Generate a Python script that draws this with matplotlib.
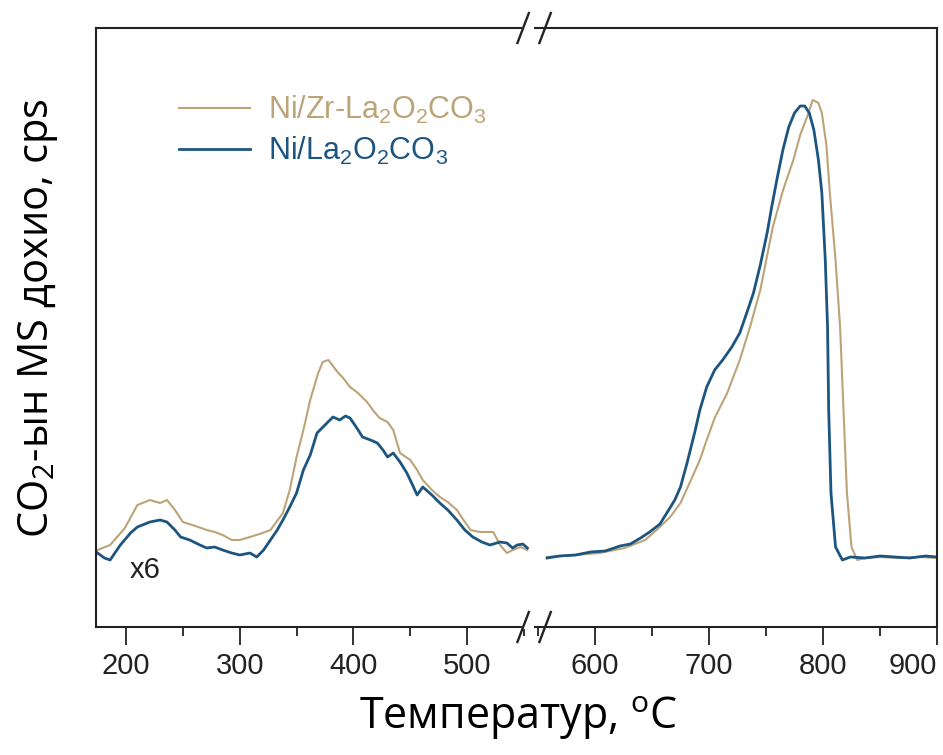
import numpy as np
import matplotlib
matplotlib.use('Agg')
import matplotlib.pyplot as plt
from matplotlib.ticker import MultipleLocator

# --- data (signal in arbitrary units, x6 below 560 C) ---
# low-temperature part
t_low_zr = [175, 186, 199, 210, 221, 230, 236, 243, 250, 261, 271, 278, 285, 293,
            300, 309, 320, 327, 338, 344, 350, 356, 362, 369, 373, 378, 386, 391,
            397, 404, 412, 417, 423, 430, 435, 441, 450, 456, 461, 469, 476, 483,
            491, 498, 503, 511, 523, 529, 535, 540, 547, 553]
y_low_zr = [77, 82, 99, 122, 127, 124, 127, 117, 105, 101, 97, 95, 92, 87,
            87, 90, 94, 97, 114, 137, 170, 197, 227, 254, 265, 267, 255, 249,
            240, 234, 225, 217, 209, 205, 197, 174, 167, 157, 147, 137, 130, 125,
            117, 105, 97, 95, 95, 82, 74, 77, 80, 77]

t_low_ni = [175, 181, 186, 195, 204, 210, 221, 230, 236, 243, 248, 256, 265, 271,
            278, 285, 293, 300, 309, 315, 321, 327, 333, 338, 344, 350, 356, 362,
            368, 375, 382, 388, 393, 397, 403, 408, 415, 421, 426, 430, 435, 441,
            447, 452, 456, 461, 469, 476, 483, 491, 498, 505, 513, 520, 529, 535,
            540, 544, 549, 553]
y_low_ni = [74, 69, 67, 82, 94, 100, 105, 107, 105, 97, 90, 87, 82, 79,
            80, 77, 74, 72, 74, 70, 77, 87, 97, 107, 120, 134, 157, 172,
            194, 202, 210, 207, 211, 209, 199, 190, 187, 184, 177, 170, 174, 165,
            154, 142, 132, 140, 132, 124, 117, 107, 97, 90, 85, 82, 85, 84,
            79, 82, 83, 79]

# high-temperature part
t_high_zr = [558, 583, 604, 626, 644, 654, 666, 675, 683, 692, 698, 705, 716, 727,
             736, 745, 756, 765, 774, 780, 786, 791, 796, 799, 803, 806, 811, 815,
             818, 821, 825, 830, 837, 850, 868, 885, 900]
y_high_zr = [70, 72, 74, 79, 87, 97, 110, 124, 144, 167, 187, 209, 234, 267,
             300, 337, 400, 437, 467, 492, 510, 527, 524, 514, 482, 434, 367, 300,
             217, 134, 80, 67, 69, 70, 69, 70, 69]

t_high_ni = [558, 569, 583, 596, 609, 622, 631, 640, 648, 657, 663, 670, 675, 681,
             688, 692, 698, 705, 712, 720, 727, 734, 739, 745, 751, 755, 760, 765,
             770, 775, 780, 784, 788, 792, 796, 799, 802, 804, 805, 807, 811, 817,
             824, 837, 850, 863, 876, 890, 900]
y_high_ni = [69, 71, 72, 75, 76, 81, 83, 89, 95, 103, 114, 127, 140, 165,
             197, 217, 240, 257, 267, 280, 294, 317, 334, 362, 394, 420, 450, 478,
             500, 514, 521, 521, 514, 497, 467, 434, 367, 300, 217, 134, 80, 67,
             70, 69, 71, 70, 69, 71, 70]

labels = ['Ni/Zr-La$_2$O$_2$CO$_3$', 'Ni/La$_2$O$_2$CO$_3$']
colors = ['#bca478', '#1d5581']
x_ticks = [200, 300, 400, 500, 600, 700, 800, 900]

plt.rcParams['mathtext.fontset'] = 'custom'
plt.rcParams['mathtext.rm'] = 'Liberation Sans'
plt.rcParams['mathtext.it'] = 'Liberation Sans'

fig = plt.figure(figsize=(9.43, 7.55), dpi=100)
# two panels sharing one scale, joined at the axis break
ax1 = fig.add_axes([96 / 943, 1 - 627 / 755, 439 / 943, 599 / 755])
ax2 = fig.add_axes([535 / 943, 1 - 627 / 755, 402 / 943, 599 / 755])

ax1.plot(t_low_zr, y_low_zr, color=colors[0], lw=1.5, label=labels[0])
ax1.plot(t_low_ni, y_low_ni, color=colors[1], lw=2.0, label=labels[1])
ax2.plot(t_high_zr, y_high_zr, color=colors[0], lw=1.5)
ax2.plot(t_high_ni, y_high_ni, color=colors[1], lw=2.0)

ax1.set_xlim(173.6, 559.7)
ax2.set_xlim(547.4, 900)
ax1.set_xticks([t for t in x_ticks if t < 550])
ax2.set_xticks([t for t in x_ticks if t > 550])
for ax in (ax1, ax2):
    ax.set_ylim(0, 599)
    ax.set_yticks([])
    ax.xaxis.set_minor_locator(MultipleLocator(50))
    ax.tick_params(axis='x', which='major', direction='out', length=13, width=1.3,
                   color='#222222', pad=5)
    ax.tick_params(axis='x', which='minor', direction='out', length=6.5, width=1.3,
                   color='#222222')
    for s in ax.spines.values():
        s.set_linewidth(1.5)
        s.set_color('#222222')
    for lab in ax.get_xticklabels():
        lab.set_fontfamily('Liberation Sans')
        lab.set_fontsize(21)
        lab.set_color('#222222')
ax2.get_xticklabels()[-1].set_horizontalalignment('right')
ax1.spines['right'].set_visible(False)
ax2.spines['left'].set_visible(False)
ax2.patch.set_alpha(0)

# break marks "//" on top and bottom spines
for yb in (0, 1):
    ax1.plot([0.975, 1.02], [yb, yb], transform=ax1.transAxes, color='white',
             lw=3, clip_on=False, zorder=5)
    for xc in (0.973, 1.023):
        ax1.plot([xc - 0.013, xc + 0.013], [yb - 0.025, yb + 0.025],
                 transform=ax1.transAxes, color='#222222', lw=1.7,
                 clip_on=False, zorder=6)

leg = ax1.legend(loc='upper left', bbox_to_anchor=(0.19, 0.89), frameon=False,
                 borderpad=0, borderaxespad=0, handlelength=2.3,
                 handletextpad=0.6, labelspacing=0.3,
                 prop={'family': 'Liberation Sans', 'size': 22})
for txt, c in zip(leg.get_texts(), colors):
    txt.set_color(c)

ax1.text(217, 57, 'x6', fontsize=21, family='Liberation Sans', color='#222222',
         ha='center', va='center')

fig.text(518 / 943, 1 - 718 / 755, 'Температур, $^{\\mathregular{o}}$C',
         family=['Open Sans', 'DejaVu Sans'], fontsize=31, ha='center', va='center')
fig.text(38 / 943, 1 - 318 / 755, 'CO$_{\\mathregular{2}}$-ын MS дохио, cps',
         family=['Open Sans', 'DejaVu Sans'], fontsize=30, ha='center', va='center',
         rotation=90)

fig.savefig('out.png', dpi=100)
